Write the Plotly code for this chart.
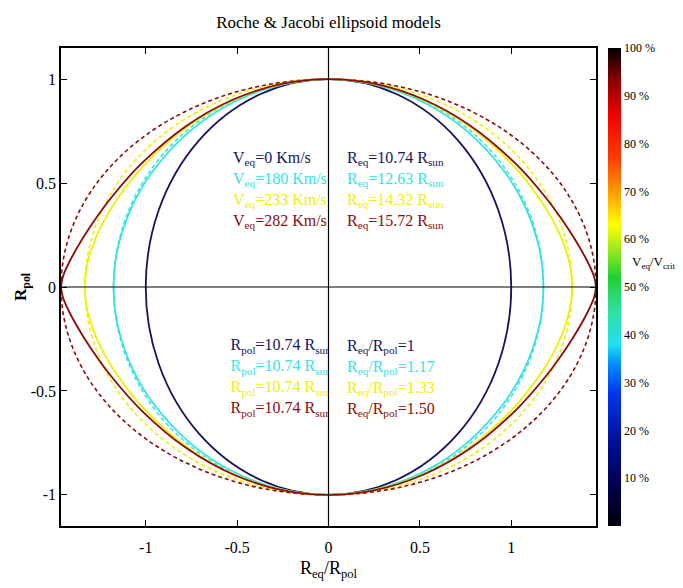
import plotly.graph_objects as go

# ---------------- data ----------------
colors = ["#14145f", "#36e3e3", "#f0f000", "#8c0b0b"]
veq_kms = [0, 180, 233, 282]
req_rsun = ["10.74", "12.63", "14.32", "15.72"]
rpol_rsun = ["10.74", "10.74", "10.74", "10.74"]
ratio_text = ["1", "1.17", "1.33", "1.50"]
# Jacobi/Maclaurin ellipse semi-axes (Req/Rpol, Rpol = 1)
ellipse_a = [1.0, 1.176, 1.333, 1.4637]

# Roche surfaces, upper-right quadrant (x = Req direction, y = Rpol direction)
roche_cyan_x = [0.0, 0.2607, 0.5148, 0.7534, 0.9625, 1.0737, 1.1490, 1.1691, 1.176]
roche_cyan_y = [1.0, 0.9731, 0.8916, 0.7534, 0.5557, 0.3908, 0.2026, 0.1023, 0.0]
roche_yel_x = [0.0, 0.2613, 0.5198, 0.7717, 1.0115, 1.1580, 1.2233, 1.2789, 1.3183, 1.3306, 1.333]
roche_yel_y = [1.0, 0.9753, 0.9002, 0.7717, 0.5840, 0.4215, 0.3278, 0.2255, 0.1153, 0.0465, 0.0]
roche_red_x = [0.0, 0.2615, 0.5209, 0.7763, 1.0255, 1.1870, 1.2659, 1.3430, 1.4162, 1.4529, 1.4637]
roche_red_y = [1.0, 0.9758, 0.9022, 0.7763, 0.5921, 0.4320, 0.3392, 0.2368, 0.1239, 0.0507, 0.0]

cbar_ticks = [10, 20, 30, 40, 50, 60, 70, 80, 90, 100]

FONT = "Liberation Serif"
XR = [-1.4637, 1.4637]
YR = [-1.15, 1.15]

fig = go.Figure()

shapes = []
# ellipses (dashed) + the round model (solid navy)
for a, c in zip(ellipse_a, colors):
    shapes.append(dict(type="circle", xref="x", yref="y", x0=-a, x1=a, y0=-1, y1=1,
                       layer="below",
                       line=dict(color=c, width=1.8 if a == 1.0 else 1.6,
                                 dash="solid" if a == 1.0 else "4px,3px")))

def add_roche(xq, yq, color):
    up_x = [-v for v in xq[::-1]] + xq[1:]
    up_y = yq[::-1] + yq[1:]
    fig.add_trace(go.Scatter(x=up_x, y=up_y, mode="lines", line=dict(color=color, width=1.8, shape="spline"),
                             hoverinfo="skip", showlegend=False))
    fig.add_trace(go.Scatter(x=up_x, y=[-v for v in up_y], mode="lines",
                             line=dict(color=color, width=1.8, shape="spline"),
                             hoverinfo="skip", showlegend=False))

add_roche(roche_cyan_x, roche_cyan_y, colors[1])
add_roche(roche_yel_x, roche_yel_y, colors[2])
add_roche(roche_red_x, roche_red_y, colors[3])

# colorbar carrier
jet_dark = [
    [0.0, "#000008"], [0.08, "#00004a"], [0.18, "#00109a"], [0.28, "#0038f0"],
    [0.34, "#0090ff"], [0.38, "#20e0f0"], [0.45, "#30e0a0"], [0.52, "#20d030"],
    [0.58, "#a0e820"], [0.63, "#ffff00"], [0.70, "#ff9a00"], [0.77, "#ff3c00"],
    [0.86, "#f00000"], [0.93, "#900000"], [1.0, "#000000"],
]
fig.add_trace(go.Scatter(
    x=[0, 0], y=[0, 0], mode="markers", hoverinfo="skip", showlegend=False,
    marker=dict(size=1, opacity=0, color=[0, 100], cmin=0, cmax=100, colorscale=jet_dark,
                showscale=True,
                colorbar=dict(x=1.022, xanchor="left", y=0.5, yanchor="middle", len=1.0,
                              thickness=13, outlinewidth=0, ticks="", xpad=0, ypad=0,
                              tickvals=cbar_ticks, ticktext=[f"{t} %" for t in cbar_ticks],
                              tickfont=dict(family=FONT, size=12, color="black"))),
))

# text blocks
def px2x(px):
    return (px - 328.0) / 182.9

def px2y(py):
    return (286.0 - py) / 207.0

anns = []
up_rows = [158, 179, 200, 221]
low_rows = [345, 366, 387, 408]
for i in range(4):
    anns.append(dict(x=px2x(230), y=px2y(up_rows[i]), xref="x", yref="y", xanchor="left", yanchor="middle",
                     text=f"V<sub>eq</sub>={veq_kms[i]} Km/s", showarrow=False,
                     font=dict(family=FONT, size=16, color=colors[i])))
    anns.append(dict(x=px2x(345), y=px2y(up_rows[i]), xref="x", yref="y", xanchor="left", yanchor="middle",
                     text=f"R<sub>eq</sub>={req_rsun[i]} R<sub>sun</sub>", showarrow=False,
                     font=dict(family=FONT, size=16, color=colors[i])))
    anns.append(dict(x=px2x(345), y=px2y(low_rows[i]), xref="x", yref="y", xanchor="left", yanchor="middle",
                     text=f"R<sub>eq</sub>/R<sub>pol</sub>={ratio_text[i]}", showarrow=False,
                     font=dict(family=FONT, size=16, color=colors[i])))

# lower-left block as text trace (clipped by white box at x=0)
fig.add_trace(go.Scatter(
    x=[px2x(230)] * 4, y=[px2y(r) for r in low_rows], mode="text",
    text=[f"R<sub>pol</sub>={v} R<sub>sun</sub>" for v in rpol_rsun],
    textposition="middle right", hoverinfo="skip", showlegend=False,
    textfont=dict(family=FONT, size=16, color=colors),
))
shapes.append(dict(type="rect", xref="x", yref="y", x0=0, x1=0.09, y0=-0.66, y1=-0.2,
                   fillcolor="white", line=dict(width=0), layer="above"))
# centre cross
shapes.append(dict(type="line", xref="x", yref="paper", x0=0, x1=0, y0=0, y1=1,
                   line=dict(color="black", width=1.2), layer="above"))
shapes.append(dict(type="line", xref="paper", yref="y", x0=0, x1=1, y0=0, y1=0,
                   line=dict(color="black", width=1.2), layer="above"))

# axis titles / colorbar title  (paper coords of the plot area)
anns.append(dict(x=0.5, y=(526 - 569) / 478, xref="paper", yref="paper", xanchor="center", yanchor="middle",
                 text="R<sub>eq</sub>/R<sub>pol</sub>", showarrow=False,
                 font=dict(family=FONT, size=18, color="black")))
anns.append(dict(x=(22 - 61) / 535, y=0.5, xref="paper", yref="paper", xanchor="center", yanchor="middle",
                 text="<b>R<sub>pol</sub></b>", textangle=-90, showarrow=False,
                 font=dict(family=FONT, size=17, color="black")))
anns.append(dict(x=(630 - 61) / 535, y=(526 - 262) / 478, xref="paper", yref="paper", xanchor="left",
                 yanchor="middle", text="V<sub>eq</sub>/V<sub>crit</sub>", showarrow=False,
                 font=dict(family=FONT, size=13, color="black")))

axis_common = dict(showgrid=False, zeroline=False, showline=True, linecolor="black", linewidth=1.6,
                   mirror="allticks", ticks="inside", ticklen=6, tickcolor="black", tickwidth=1,
                   tickfont=dict(family=FONT, size=16, color="black"))
# the page body has an 8px margin, so the figure is 8px smaller than the window
fig.update_layout(
    width=675, height=580,
    margin=dict(l=53, r=87, t=40, b=62, autoexpand=False),
    paper_bgcolor="white", plot_bgcolor="white",
    title=dict(text="Roche &amp; Jacobi ellipsoid models", x=0.5, xref="paper", xanchor="center",
               y=1 - 14 / 580, yanchor="middle", font=dict(family=FONT, size=17, color="black")),
    xaxis=dict(range=XR, tickvals=[-1, -0.5, 0, 0.5, 1], ticktext=["-1", "-0.5", "0", "0.5", "1"],
               ticklabelstandoff=6, **axis_common),
    yaxis=dict(range=YR, tickvals=[-1, -0.5, 0, 0.5, 1], ticktext=["-1", "-0.5", "0", "0.5", "1"],
               **axis_common),
    shapes=shapes, annotations=anns, hovermode=False,
)

fig.write_html("out.html")
